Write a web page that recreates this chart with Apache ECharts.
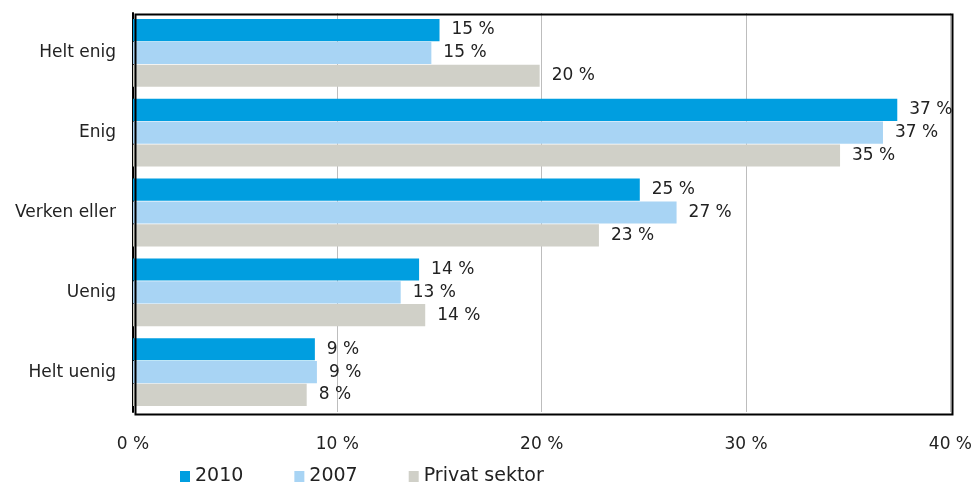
<!DOCTYPE html>
<html><head><meta charset="utf-8">
<script src="https://cdn.jsdelivr.net/npm/echarts@6/dist/echarts.min.js"></script>
<style>html,body{margin:0;padding:0;background:#fff}#c{width:975px;height:483px}</style>
</head><body><div id="c"></div>
<script>
const categories = ['Helt enig', 'Enig', 'Verken eller', 'Uenig', 'Helt uenig'];
const seriesNames = ['2010', '2007', 'Privat sektor'];
const values2010 = [15.0, 37.4, 24.8, 14.0, 8.9];
const values2007 = [14.6, 36.7, 26.6, 13.1, 9.0];
const valuesPrivat = [19.9, 34.6, 22.8, 14.3, 8.5];
const labels2010 = ['15 %', '37 %', '25 %', '14 %', '9 %'];
const labels2007 = ['15 %', '37 %', '27 %', '13 %', '9 %'];
const labelsPrivat = ['20 %', '35 %', '23 %', '14 %', '8 %'];
const xTicks = [0, 10, 20, 30, 40];

const colors = ['#009EE0', '#A8D4F4', '#D0D0C8'];
const font = 'DejaVu Sans';
const allVals = [values2010, values2007, valuesPrivat];
const allLabels = [labels2010, labels2007, labelsPrivat];

const chart = echarts.init(document.getElementById('c'));
chart.setOption({
  animation: false,
  textStyle: { fontFamily: font },
  grid: { left: 133, right: 24, top: 13, bottom: 71, containLabel: false },
  legend: {
    data: seriesNames,
    left: 175, top: 462,
    itemWidth: 10, itemHeight: 11, itemGap: 51,
    icon: 'rect',
    textStyle: { fontFamily: font, fontSize: 19, color: '#222' }
  },
  xAxis: {
    type: 'value', min: 0, max: 40, interval: 10,
    axisLine: { show: false },
    axisTick: { show: false },
    splitLine: { show: true, lineStyle: { color: '#BDBDBD', width: 1 } },
    axisLabel: { fontFamily: font, fontSize: 17, color: '#222', margin: 24,
      formatter: v => xTicks.includes(v) ? v + ' %' : '' }
  },
  yAxis: {
    type: 'category', data: categories, inverse: true,
    axisLine: { show: true, lineStyle: { color: '#000', width: 2 } },
    axisTick: { show: false },
    axisLabel: { fontFamily: font, fontSize: 17, color: '#222', margin: 17 }
  },
  graphic: [{
    type: 'rect', left: 133, top: 12, shape: { width: 817, height: 400 },
    style: { fill: 'none', stroke: '#000', lineWidth: 2 }, silent: true, z: 10
  }],
  series: seriesNames.map((n, i) => ({
    name: n, type: 'bar',
    data: allVals[i],
    itemStyle: { color: colors[i] },
    barGap: '3%', barCategoryGap: '15%',
    label: { show: true, position: 'right', distance: 12, fontFamily: font, fontSize: 17, color: '#222',
      formatter: p => allLabels[i][p.dataIndex] }
  }))
});
</script></body></html>
